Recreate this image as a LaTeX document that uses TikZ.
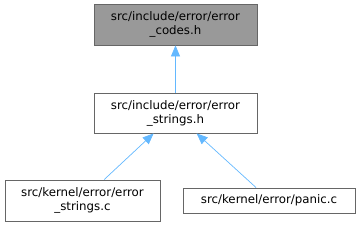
\documentclass[tikz,border=0pt]{standalone}
\usepackage{fontspec}
\setmainfont{DejaVu Sans}
\usetikzlibrary{arrows.meta}
\definecolor{edgeblue}{HTML}{63B8FF}
\definecolor{boxborder}{HTML}{666666}
\definecolor{topfill}{HTML}{999999}
\tikzset{
  filebox/.style={draw=boxborder, line width=0.8pt, fill=white, align=center, font=\fontsize{11.8}{14}\selectfont, inner sep=0pt},
  dep/.style={draw=edgeblue, line width=0.7pt, -{Triangle[length=11pt,width=9pt]}},
}
\begin{document}
\begin{tikzpicture}[x=1pt,y=-1pt]
\useasboundingbox (0,0) rectangle (360,227);
\node[filebox, fill=topfill, minimum width=163pt, minimum height=41pt] (top) at (175.5,24.5) {src/include/error/error\\\_codes.h};
\node[filebox, minimum width=163pt, minimum height=40pt] (mid) at (175.5,113) {src/include/error/error\\\_strings.h};
\node[filebox, minimum width=155pt, minimum height=41pt] (bl) at (82.5,200.5) {src/kernel/error/error\\\_strings.c};
\node[filebox, minimum width=172pt, minimum height=25pt] (br) at (269,200.5) {src/kernel/error/panic.c};
\draw[dep] (mid.north) -- (top.south);
\draw[dep] (bl.44) -- (mid.223.6);
\draw[dep] (br.135) -- (mid.316.4);
\end{tikzpicture}
\end{document}
